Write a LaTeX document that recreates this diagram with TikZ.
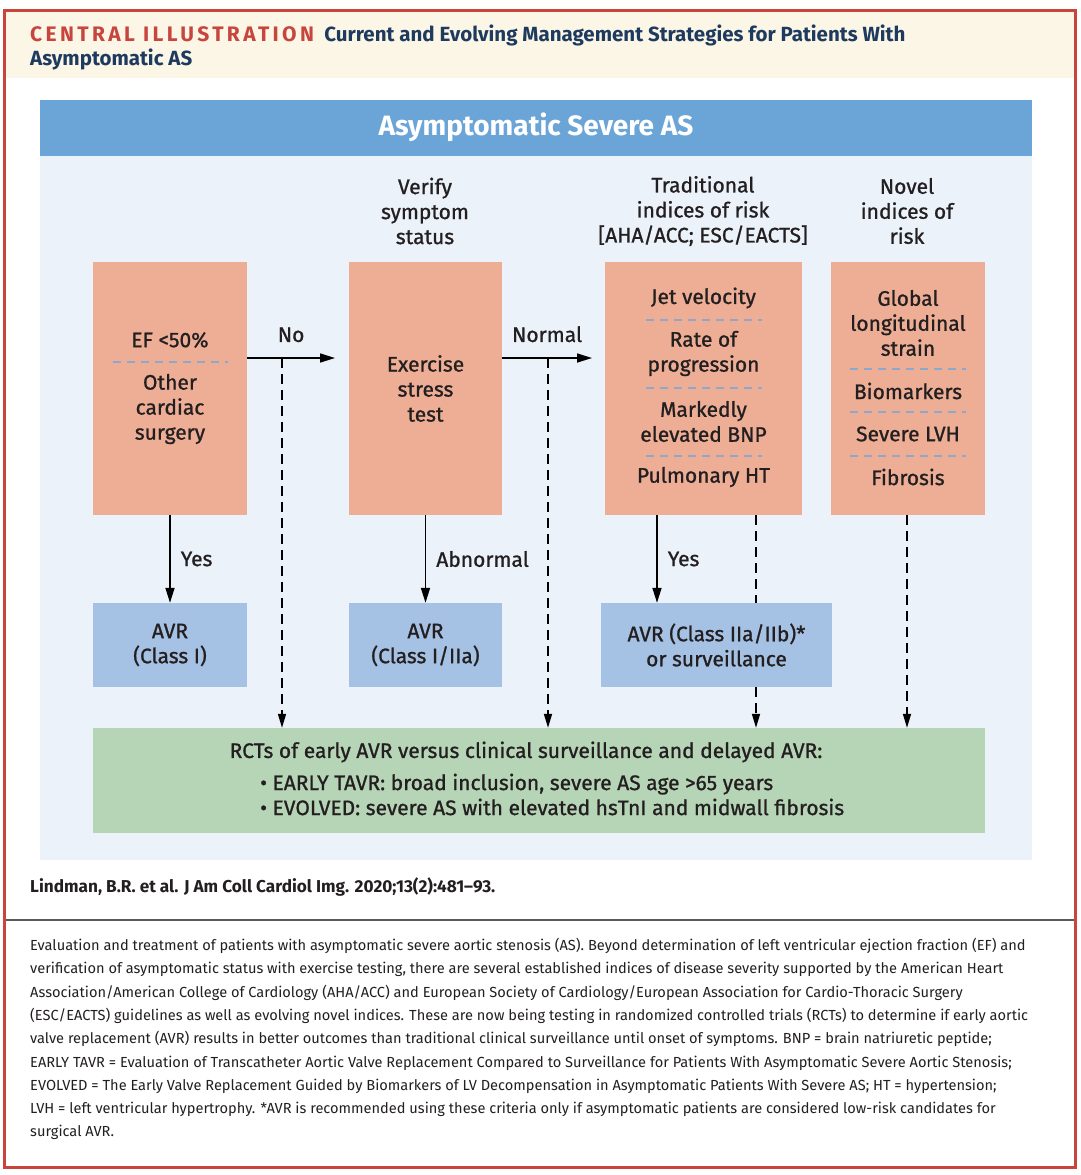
\documentclass[tikz,border=0pt]{standalone}
\usepackage{fontspec}
\setmainfont{Fira Sans}
\newfontfamily\medfont{Fira Sans}[FakeBold=1]
\usetikzlibrary{arrows.meta}
\usetikzlibrary{positioning}

\definecolor{frame}{HTML}{C8453D}
\definecolor{cream}{HTML}{FBF6E6}
\definecolor{navy}{HTML}{1E3A5F}
\definecolor{panel}{HTML}{EBF2F9}
\definecolor{headblue}{HTML}{6BA5D7}
\definecolor{salmon}{HTML}{EDAE95}
\definecolor{avrblue}{HTML}{A5C1E4}
\definecolor{trialgreen}{HTML}{B6D4B6}
\definecolor{divider}{HTML}{8EA7CA}
\definecolor{ink}{HTML}{231F20}
\definecolor{rulegray}{HTML}{5A5A5A}
\newcommand{\boxtext}{\medfont\fontsize{21}{25}\selectfont}
\newcommand{\captext}{\fontsize{14.6}{23.3}\selectfont}

\begin{document}
\begin{tikzpicture}[
    x=1pt, y=-1pt,
    every node/.style={text=ink, inner sep=0pt, font=\boxtext},
    riskbox/.style={fill=salmon, minimum width=#1, minimum height=253pt, align=center},
    avrbox/.style={fill=avrblue, minimum width=#1, minimum height=84pt, align=center},
    heading/.style={align=center},
    split line/.style={divider, line width=2pt, dash pattern=on 8pt off 6pt},
    yes arrow/.style={-{Triangle[length=15pt, width=9pt]}, line width=1.6pt},
    maybe line/.style={line width=1.6pt, dash pattern=on 10pt off 6pt},
    maybe arrow/.style={maybe line, -{Triangle[length=14pt, width=8pt]}}
    ]

    \useasboundingbox (0,0) rectangle (1080,1175);
    % frame and title band
    \draw[frame, line width=3pt, fill=white] (4,10) rectangle (1075,1167);
    \fill[cream] (5.5,11.5) rectangle (1073.5,78);
    \node[anchor=base west, text=frame, font=\fontsize{21}{24}\selectfont\bfseries\addfontfeature{LetterSpace=16}] (title) at (30,41) {CENTRAL ILLUSTRATION};
    \node[anchor=base west, text=navy, font=\fontsize{20.5}{24}\selectfont\bfseries] (subtitle) at ([xshift=10pt]title.base east) {Current and Evolving Management Strategies for Patients With};
    \node[anchor=base west, text=navy, font=\fontsize{20.5}{24}\selectfont\bfseries] (subtitle2) at (30,65) {Asymptomatic AS};

    % panel and header
    \fill[panel] (40,100) rectangle (1032,860);
    \node[fill=headblue, minimum width=992pt, minimum height=56pt, text=white, font=\fontsize{28}{30}\selectfont\bfseries] (header) at (536,127.5) {Asymptomatic Severe AS};

    % column headings
    \node[heading] (verifyhead) at (425,211) {Verify\\symptom\\status};
    \node[heading] (tradhead) at (703,211) {Traditional\\indices of risk\\{}[AHA/ACC; ESC/EACTS]};
    \node[heading] (novelhead) at (907,211) {Novel\\indices of\\risk};

    % risk boxes
    \node[riskbox=154pt] (lvbox) at (170,388.5) {};
    \node[riskbox=153pt] (stress) at (425.5,388.5) {Exercise\\stress\\test};
    \node[riskbox=197pt] (trad) at (703.5,388.5) {};
    \node[riskbox=154pt] (novel) at (908,388.5) {};

    % items in the boxes
    \node (ef) at (170,340) {EF <50\%};
    \draw[split line] (113,362) -- (228,362);
    \node[heading] (othersurg) at (170,409) {Other\\cardiac\\surgery};

    \node (jet) at (703.5,298) {Jet velocity};
    \draw[split line] (646,320) -- (762,320);
    \node[heading] (rate) at (703.5,353.5) {Rate of\\progression};
    \draw[split line] (646,388) -- (762,388);
    \node[heading] (bnp) at (703.5,421.5) {Markedly\\elevated BNP};
    \draw[split line] (646,456) -- (762,456);
    \node (pulm) at (703.5,477) {Pulmonary HT};

    \node[heading] (gls) at (908,323) {Global\\longitudinal\\strain};
    \draw[split line] (850,369) -- (966,369);
    \node (biomark) at (908,391) {Biomarkers};
    \draw[split line] (850,412) -- (966,412);
    \node (lvh) at (908,434) {Severe LVH};
    \draw[split line] (850,456) -- (966,456);
    \node (fibro) at (908,477) {Fibrosis};

    % outcome boxes
    \node[avrbox=154pt] (avr1) at (170,645) {AVR\\(Class I)};
    \node[avrbox=153pt] (avr2) at (425.5,645) {AVR\\(Class I/IIa)};
    \node[avrbox=231pt] (avr3) at (716.5,645) {AVR (Class IIa/IIb)*\\or surveillance};
    \node[fill=trialgreen, minimum width=892pt, minimum height=105pt] (rcts) at (539,780.5) {};
    \node (rctstitle) at (526,752) {RCTs of early AVR versus clinical surveillance and delayed AVR:};
    \node[anchor=west, align=left] (rctslist) at (260,794.5) {• EARLY TAVR: broad inclusion, severe AS age >65 years\\• EVOLVED: severe AS with elevated hsTnI and midwall fibrosis};

    % connectors
    \coordinate (noend) at (335,358);
    \coordinate (nojoin) at (282,358);
    \coordinate (normend) at (592,358);
    \coordinate (normjoin) at (548,358);
    \coordinate (tradyes) at (657,0);
    \coordinate (tradno) at (756,0);
    \coordinate (novelno) at (907,0);

    \draw[yes arrow] (lvbox.east |- noend) -- (noend) node[midway, above=15pt] {No};
    \draw[yes arrow] (stress.east |- normend) -- (normend) node[midway, above=15pt] {Normal};
    \draw[yes arrow] (lvbox.south) -- (avr1.north) node[midway, right=10pt] {Yes};
    \draw[yes arrow] (stress.south) -- (avr2.north) node[midway, right=10pt] {Abnormal};
    \draw[yes arrow] (trad.south -| tradyes) -- (avr3.north -| tradyes) node[midway, right=10pt] {Yes};

    \draw[maybe arrow] (nojoin) -- (nojoin |- rcts.north);
    \draw[maybe arrow] (normjoin) -- (normjoin |- rcts.north);
    \draw[maybe line] (trad.south -| tradno) -- (avr3.north -| tradno);
    \draw[maybe arrow] (avr3.south -| tradno) -- (rcts.north -| tradno);
    \draw[maybe arrow] (novel.south -| novelno) -- (rcts.north -| novelno);

    % citation and caption
    \node[anchor=west, font=\fontsize{17.2}{20}\selectfont\bfseries] (cite) at (30,887) {Lindman, B.R. et al. J Am Coll Cardiol Img. 2020;13(2):481--93.};
    \draw[rulegray, line width=1.5pt] (5.5,920) -- (1073.5,920);
    \node[anchor=north west, align=left, font=\captext] (caption) at (30,938) {Evaluation and treatment of patients with asymptomatic severe aortic stenosis (AS). Beyond determination of left ventricular ejection fraction (EF) and\\
verification of asymptomatic status with exercise testing, there are several established indices of disease severity supported by the American Heart\\
Association/American College of Cardiology (AHA/ACC) and European Society of Cardiology/European Association for Cardio-Thoracic Surgery\\
(ESC/EACTS) guidelines as well as evolving novel indices. These are now being testing in randomized controlled trials (RCTs) to determine if early aortic\\
valve replacement (AVR) results in better outcomes than traditional clinical surveillance until onset of symptoms. BNP = brain natriuretic peptide;\\
EARLY TAVR = Evaluation of Transcatheter Aortic Valve Replacement Compared to Surveillance for Patients With Asymptomatic Severe Aortic Stenosis;\\
EVOLVED = The Early Valve Replacement Guided by Biomarkers of LV Decompensation in Asymptomatic Patients With Severe AS; HT = hypertension;\\
LVH = left ventricular hypertrophy. *AVR is recommended using these criteria only if asymptomatic patients are considered low-risk candidates for\\
surgical AVR.};
\end{tikzpicture}
\end{document}
